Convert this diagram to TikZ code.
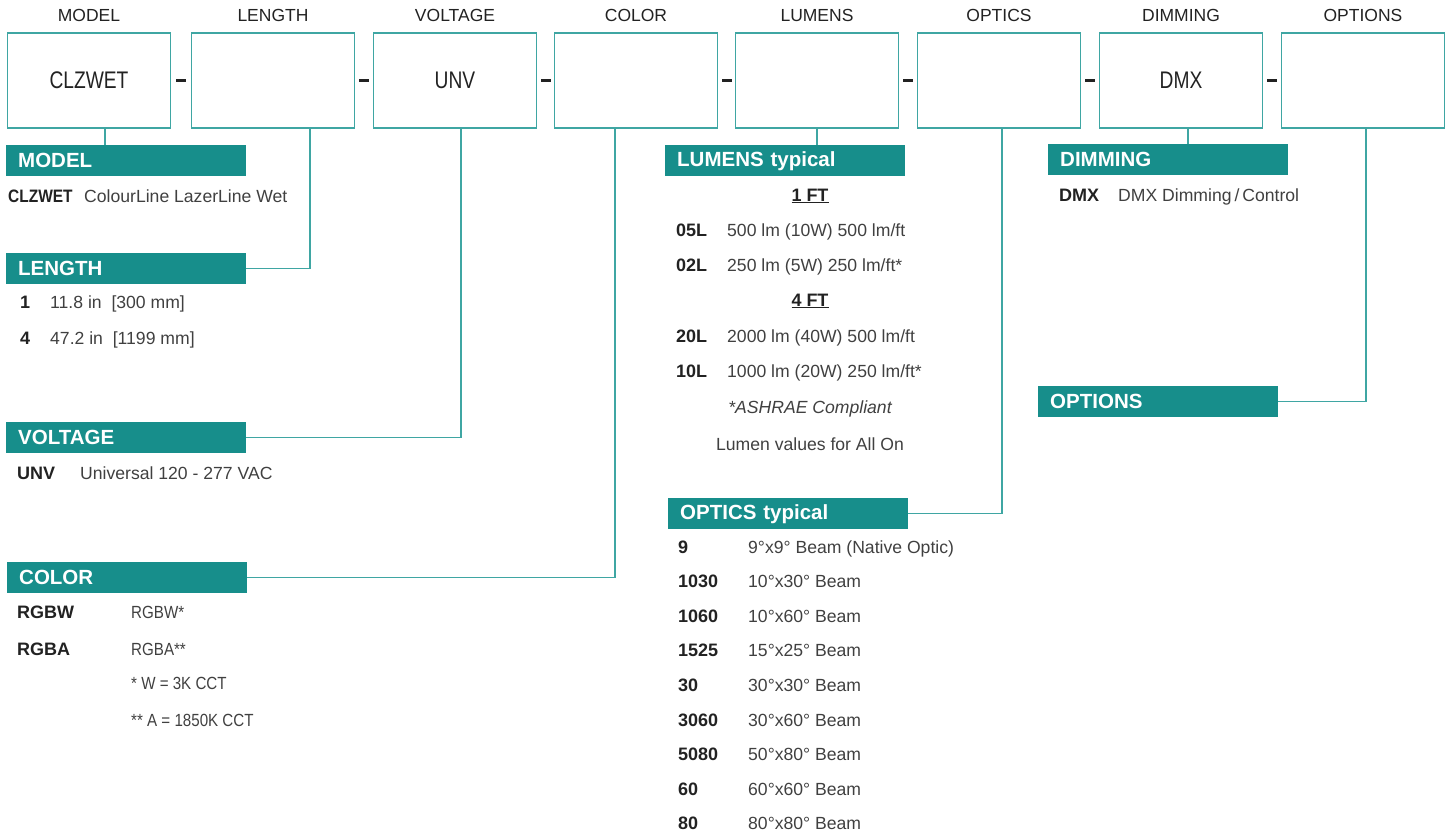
\documentclass[tikz,border=0pt]{standalone}
\usepackage{fontspec}
\setmainfont{Liberation Sans}
\usepackage{graphicx}
\usetikzlibrary{positioning,calc}

\definecolor{tealbar}{HTML}{178E8B}
\definecolor{tealline}{HTML}{3FA6A3}
\definecolor{ink}{HTML}{222222}
\definecolor{greytext}{HTML}{404040}
\newcommand{\narrow}[1]{\scalebox{0.86}[1]{#1}}
\newcommand{\boxtext}[1]{\scalebox{0.8}[1]{#1}}

\begin{document}
\begin{tikzpicture}[x=1pt,y=-1pt,
  partbox/.style={draw=tealline,line width=1.5pt,minimum width=163pt,minimum height=95pt,inner sep=0pt,text=ink,font=\fontsize{24}{26}\selectfont},
  partname/.style={anchor=base,inner sep=0pt,text=ink,font=\fontsize{17.5}{19}\selectfont},
  bar/.style={fill=tealbar,text=white,anchor=north west,text width=216pt,inner xsep=12pt,inner ysep=0pt,minimum height=31pt,align=left,font=\fontsize{20.5}{22}\bfseries\selectfont},
  code/.style={anchor=base west,inner sep=0pt,text=ink,font=\fontsize{18}{20}\bfseries\selectfont},
  desc/.style={anchor=base west,inner sep=0pt,text=greytext,font=\fontsize{17.6}{19}\selectfont},
  wire/.style={draw=tealline,line width=1.5pt}]

\useasboundingbox (0,0) rectangle (1449,836);

% part number boxes
\foreach \n/\x/\lab/\txt in {model/89/MODEL/CLZWET, length/273/LENGTH/, voltage/455/VOLTAGE/UNV,
  color/636/COLOR/, lumens/817/LUMENS/, optics/999/OPTICS/, dimming/1181/DIMMING/DMX, options/1363/OPTIONS/}{
  \node[partbox] (b\n) at (\x,80.5) {\boxtext{\txt}};
  \node[partname] (t\n) at ([yshift=11pt]b\n.north) {\lab};
}

\foreach \a/\b in {model/length, length/voltage, voltage/color, color/lumens, lumens/optics, optics/dimming, dimming/options}
  \node[fill=ink,inner sep=0pt,minimum width=10pt,minimum height=2.8pt] (d\a) at ($(b\a.east)!0.5!(b\b.west)$) {};

% headings
\node[bar] (hmodel) at (6,145) {MODEL};
\node[bar] (hlength) at (6,253) {LENGTH};
\node[bar] (hvoltage) at (6,422) {VOLTAGE};
\node[bar] (hcolor) at (7,562) {COLOR};
\node[bar] (hlumens) at (665,145) {LUMENS typical};
\node[bar] (hoptics) at (668,498) {OPTICS typical};
\node[bar] (hdimming) at (1048,144) {DIMMING};
\node[bar] (hoptions) at (1038,386) {OPTIONS};

% leader lines
\draw[wire] ([xshift=16pt]bmodel.south) -- ([xshift=16pt]bmodel.south |- hmodel.north);
\draw[wire] ([xshift=37pt]blength.south) |- (hlength.east);
\draw[wire] ([xshift=6pt]bvoltage.south) |- (hvoltage.east);
\draw[wire] ([xshift=-21pt]bcolor.south) |- (hcolor.east);
\draw[wire] (blumens.south) -- (blumens.south |- hlumens.north);
\draw[wire] ([xshift=3pt]boptics.south) |- (hoptics.east);
\draw[wire] ([xshift=7pt]bdimming.south) -- ([xshift=7pt]bdimming.south |- hdimming.north);
\draw[wire] ([xshift=3pt]boptions.south) |- (hoptions.east);

% model
\node[code] (mc1) at (8,202) {\narrow{CLZWET}};
\node[desc] (md1) at (84,202) {ColourLine LazerLine Wet};

% length
\node[code] (lc1) at (20,308) {1};
\node[desc] (ld1) at (50,308) {11.8 in\ \ [300 mm]};
\node[code] (lc2) at (20,344) {4};
\node[desc] (ld2) at (50,344) {47.2 in\ \ [1199 mm]};

% voltage
\node[code] (vc1) at (17,479) {UNV};
\node[desc] (vd1) at (80,479) {Universal 120 - 277 VAC};

% color
\node[code] (cc1) at (17,618) {RGBW};
\node[desc] (cd1) at (131,618) {\narrow{RGBW*}};
\node[code] (cc2) at (17,655) {RGBA};
\node[desc] (cd2) at (131,655) {\narrow{RGBA**}};
\node[desc] (cd3) at (131,689) {\narrow{* W = 3K CCT}};
\node[desc] (cd4) at (131,726) {\narrow{** A = 1850K CCT}};

% lumens
\node[code,anchor=base] (lu1) at (810,201) {\underline{1 FT}};
\node[code] (uc1) at (676,236) {05L};
\node[desc] (ud1) at (727,236) {500 lm (10W) 500 lm/ft};
\node[code] (uc2) at (676,271) {02L};
\node[desc] (ud2) at (727,271) {250 lm (5W) 250 lm/ft*};
\node[code,anchor=base] (lu4) at (810,306) {\underline{4 FT}};
\node[code] (uc3) at (676,342) {20L};
\node[desc] (ud3) at (727,342) {2000 lm (40W) 500 lm/ft};
\node[code] (uc4) at (676,377) {10L};
\node[desc] (ud4) at (727,377) {1000 lm (20W) 250 lm/ft*};
\node[desc,anchor=base] (un1) at (810,413) {\itshape *ASHRAE Compliant};
\node[desc,anchor=base] (un2) at (810,450) {Lumen values for All On};

% optics
\foreach \c/\d [count=\i] in {9/{9°x9° Beam (Native Optic)}, 1030/{10°x30° Beam}, 1060/{10°x60° Beam},
  1525/{15°x25° Beam}, 30/{30°x30° Beam}, 3060/{30°x60° Beam}, 5080/{50°x80° Beam}, 60/{60°x60° Beam}, 80/{80°x80° Beam}}{
  \node[code] (oc\i) at (678,{518.4+34.6*\i}) {\c};
  \node[desc] (od\i) at (748,{518.4+34.6*\i}) {\d};
}

% dimming
\node[code] (dc1) at (1059,201) {DMX};
\node[desc] (dd1) at (1118,201) {DMX Dimming\,/\,Control};

\end{tikzpicture}
\end{document}
